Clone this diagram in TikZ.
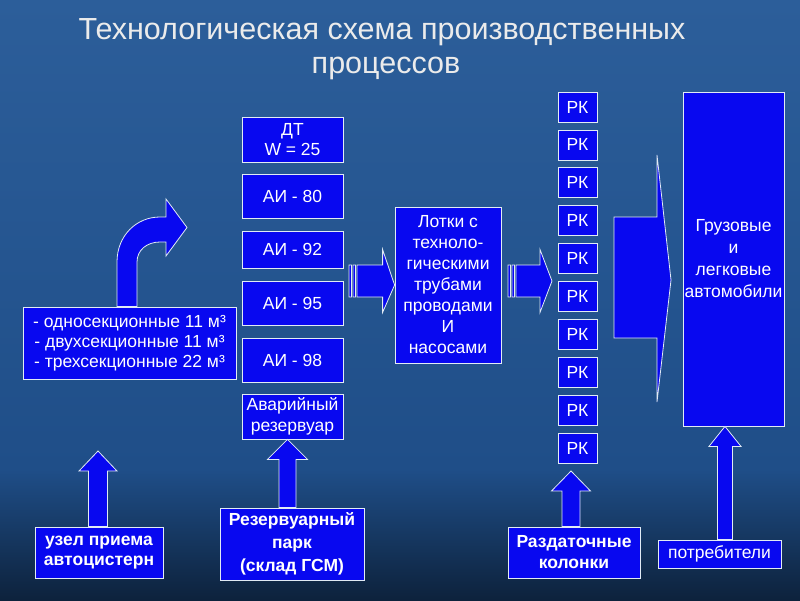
\documentclass[tikz,border=0pt]{standalone}
\usepackage{fontspec}
\setmainfont{Liberation Sans}
\usetikzlibrary{calc}
\definecolor{boxblue}{RGB}{8,8,240}
\definecolor{edge}{RGB}{225,235,245}
\definecolor{bgtop}{RGB}{44,94,154}
\definecolor{bgmid}{RGB}{31,78,136}
\definecolor{bgbot}{RGB}{13,34,60}
\definecolor{titlec}{RGB}{235,235,235}
\newcommand\uparr[4]{% #1 bottom point, #2 tip point, #3 half shaft, #4 half head
  \draw[barrow] let \p1=(#1), \p2=(#2) in
    (\x2-#3pt,\y1) -- (\x2-#3pt,\y2-20pt) -- (\x2-#4pt,\y2-20pt) -- (\x2,\y2)
    -- (\x2+#4pt,\y2-20pt) -- (\x2+#3pt,\y2-20pt) -- (\x2+#3pt,\y1) -- cycle;}
\newcommand\stripearr[2]{% #1 tail point, #2 tip point
  \draw[barrow] let \p1=(#1), \p2=(#2) in
    (\x1,\y1-16pt) rectangle (\x1+2.5pt,\y1+16pt)
    (\x1+4pt,\y1-16pt) rectangle (\x1+6.5pt,\y1+16pt)
    (\x1+8pt,\y1-16pt) -- (\x2-12pt,\y1-16pt) -- (\x2-12pt,\y1-31.5pt) -- (\x2,\y2)
    -- (\x2-12pt,\y1+31.5pt) -- (\x2-12pt,\y1+16pt) -- (\x1+8pt,\y1+16pt) -- cycle;}
\begin{document}
\begin{tikzpicture}[x=1pt,y=-1pt,
  box/.style={draw=edge, fill=boxblue, line width=0.8pt, text=white, inner sep=0pt,
    align=center, font=\fontsize{17.5}{20}\selectfont},
  bbox/.style={box, font=\fontsize{17.5}{21}\selectfont\bfseries},
  barrow/.style={draw=edge, fill=boxblue, line width=0.8pt, line join=miter},
  titletext/.style={font=\fontsize{30.5}{36}\selectfont, inner sep=0pt, text=titlec}]
\shade[top color=bgtop, bottom color=bgmid] (0,0) rectangle (800,470);
\shade[top color=bgmid, bottom color=bgbot] (0,469.5) rectangle (800,600);
\useasboundingbox (0,0) rectangle (800,600);

% title
\node[titletext] (t1) at (382,32) {Технологическая схема производственных};
\node[titletext] (t2) at (386,68) {процессов};

% tanks
\node[box, minimum width=101, minimum height=45] (dt) at (292.5,139.5) {ДТ\\W = 25};
\node[box, minimum width=101, minimum height=44] (a80) at (292.5,196) {АИ - 80};
\node[box, minimum width=101, minimum height=37] (a92) at (292.5,249.5) {АИ - 92};
\node[box, minimum width=101, minimum height=44] (a95) at (292.5,303) {АИ - 95};
\node[box, minimum width=101, minimum height=44] (a98) at (292.5,360) {АИ - 98};
\node[box, minimum width=101, minimum height=45, font=\fontsize{17.5}{21}\selectfont] (avar) at (292.5,416.5) {Аварийный\\резервуар};

% trays
\node[box, minimum width=106, minimum height=156, font=\fontsize{17.5}{21}\selectfont] (lotki) at (448,285)
  {Лотки с\\техноло-\\гическими\\трубами\\проводами\\И\\насосами};

% dispensers
\foreach \i in {1,...,10}
  \node[box, minimum width=39, minimum height=30] (rk\i) at (577.5,{107+37.9*(\i-1)}) {РК};

% vehicles
\node[box, minimum width=101, minimum height=334, font=\fontsize{17.5}{22}\selectfont] (cars) at (733.5,259)
  {Грузовые\\и\\легковые\\автомобили};

% left box
\node[box, minimum width=213, minimum height=72] (sec) at (129.5,343)
  {- односекционные 11 м³\\- двухсекционные 11 м³\\- трехсекционные 22 м³};

% bottom boxes
\node[bbox, minimum width=128, minimum height=51, font=\fontsize{17.5}{20}\selectfont\bfseries] (uzel) at (99,552.5) {узел приема\\автоцистерн};
\node[bbox, minimum width=144, minimum height=72, font=\fontsize{17.5}{23}\selectfont\bfseries] (park) at (292,544) {Резервуарный\\парк\\(склад ГСМ)};
\node[bbox, minimum width=132, minimum height=51] (razd) at (574,552.5) {Раздаточные\\колонки};
\node[box, minimum width=123, minimum height=28] (potr) at (719.5,554) {потребители};

% up arrows
\coordinate (tipA) at (98,451);
\coordinate (tipB) at ($(avar.south)+(-5,0)$);
\coordinate (tipC) at (571,471);
\coordinate (tipD) at ($(cars.south)+(-8.5,0)$);
\uparr{uzel.north}{tipA}{9.5}{19}
\uparr{park.north}{tipB}{8.5}{20}
\uparr{razd.north}{tipC}{9}{19.5}
\uparr{potr.north}{tipD}{7.5}{16}

% striped arrows
\coordinate (tail1) at (349,281);
\coordinate (tail2) at (508,281);
\coordinate (tip2) at (552,281);
\stripearr{tail1}{lotki.west}
\stripearr{tail2}{tip2}

% big arrow to vehicles
\coordinate (bigtip) at (671,280);
\draw[barrow] (614,217) -- (657,217) -- (657,155) -- (bigtip) -- (657,402) -- (657,338) -- (614,338) -- cycle;

% bent arrow
\coordinate (bendtip) at (187,227.5);
\draw[barrow] ($(sec.north)+(-12.5,0)$) -- (117,262) .. controls (117,236) and (136,217) .. (160,217)
  -- (166,217) -- (166,199) -- (bendtip) -- (166,256) -- (166,242) -- (160,242)
  .. controls (147,242) and (137,250) .. (137,262) -- ($(sec.north)+(7.5,0)$) -- cycle;
\end{tikzpicture}
\end{document}
